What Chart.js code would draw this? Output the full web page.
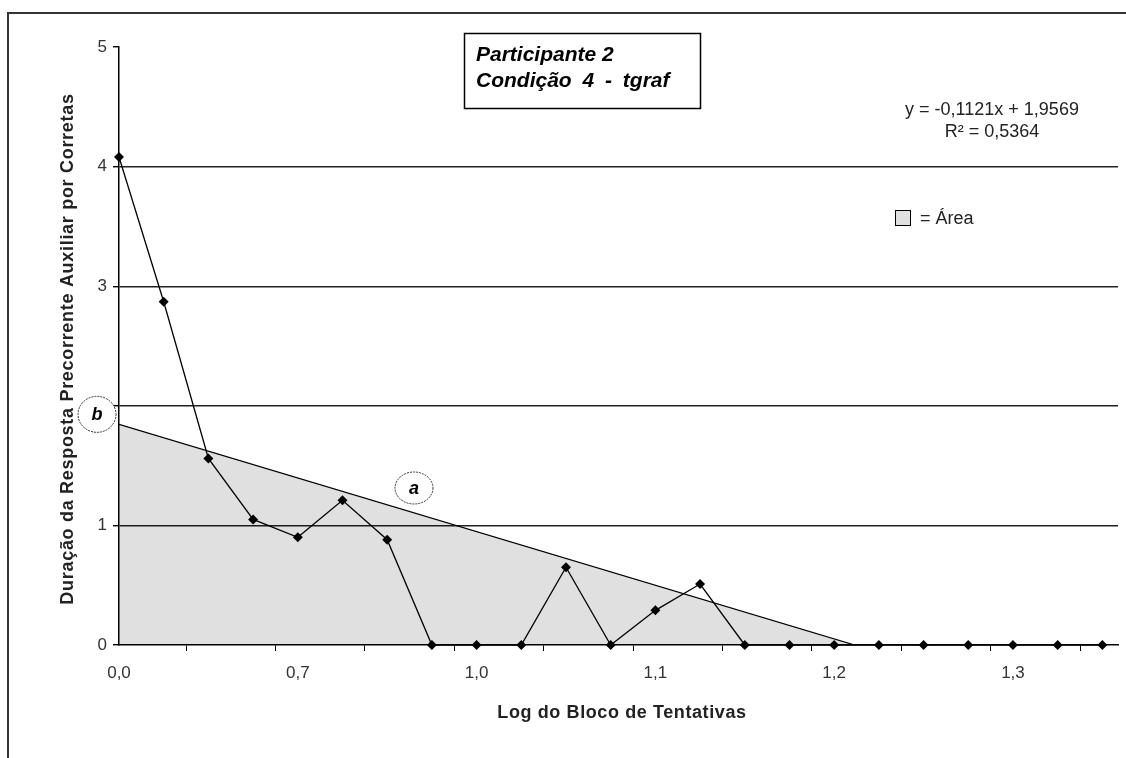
<!DOCTYPE html>
<html lang="pt">
<head>
<meta charset="utf-8">
<title>Participante 2 - Condição 4 - tgraf</title>
<script src="https://cdn.jsdelivr.net/npm/chart.js"></script>
<style>
  html, body { margin: 0; padding: 0; background: #fff; }
  #wrap { width: 1126px; height: 758px; }
</style>
</head>
<body>
<div id="wrap"><canvas id="myChart" width="1126" height="758"></canvas></div>
<script>
// blocks of trials (index 0 = block 1)
const blocos = [0, 1, 2, 3, 4, 5, 6, 7, 8, 9, 10, 11, 12, 13, 14, 15, 16, 17, 18, 19, 20, 21, 22];
const duracao = [4.08, 2.87, 1.56, 1.05, 0.90, 1.21, 0.88, 0, 0, 0, 0.65, 0, 0.29, 0.51, 0, 0, 0, 0, 0, 0, 0, 0, 0];

// x axis: labels every 4 blocks, tick marks between blocks every 2
const labelBlocos = [0, 4, 8, 12, 16, 20];
const labelTextos = ['0,0', '0,7', '1,0', '1,1', '1,2', '1,3'];
const marcasX = [1.5, 3.5, 5.5, 7.5, 9.5, 11.5, 13.5, 15.5, 17.5, 19.5, 21.5];
const yTicks = [0, 1, 2, 3, 4, 5];

// linear trend and the area under it
const trendX = [0, 16.46];
const trendY = [1.845, 0];
const equacao = ['y = -0,1121x + 1,9569', 'R² = 0,5364'];
const titulo = ['Participante 2', 'Condição 4 - tgraf'];
const tituloY = 'Duração da Resposta Precorrente Auxiliar por Corretas';
const tituloX = 'Log do Bloco de Tentativas';

const FONT = '"Liberation Sans", Arial, sans-serif';

const anotacoes = {
  id: 'anotacoes',
  beforeDraw(chart) {
    const ctx = chart.ctx;
    ctx.save();
    ctx.strokeStyle = '#333';
    ctx.lineWidth = 2;
    ctx.beginPath();
    ctx.moveTo(8, 758);
    ctx.lineTo(8, 13);
    ctx.lineTo(1126, 13);
    ctx.stroke();
    ctx.restore();
  },
  afterDraw(chart) {
    const ctx = chart.ctx;
    const x = chart.scales.x, y = chart.scales.y;
    ctx.save();

    // title box
    ctx.strokeStyle = '#000';
    ctx.lineWidth = 1.5;
    ctx.strokeRect(464.5, 33.5, 236, 75);
    ctx.fillStyle = '#000';
    ctx.font = 'italic bold 21px ' + FONT;
    ctx.textAlign = 'left';
    ctx.textBaseline = 'alphabetic';
    ctx.fillText(titulo[0], 476, 61);
    ctx.wordSpacing = '5px';
    ctx.fillText(titulo[1], 476, 87);
    ctx.wordSpacing = '0px';

    // trend equation
    ctx.fillStyle = '#222';
    ctx.font = '18px ' + FONT;
    ctx.textAlign = 'center';
    ctx.fillText(equacao[0], 992, 115);
    ctx.fillText(equacao[1], 992, 137);

    // area legend
    ctx.fillStyle = '#e0e0e0';
    ctx.fillRect(895.5, 210.5, 15, 15);
    ctx.strokeStyle = '#000';
    ctx.lineWidth = 1;
    ctx.strokeRect(895.5, 210.5, 15, 15);
    ctx.fillStyle = '#222';
    ctx.textAlign = 'left';
    ctx.fillText('= Área', 920, 224);

    // axis titles
    ctx.font = 'bold 18px ' + FONT;
    ctx.textAlign = 'center';
    ctx.letterSpacing = '0.6px';
    ctx.fillText(tituloX, 622, 718);
    ctx.save();
    ctx.translate(73, 349);
    ctx.rotate(-Math.PI / 2);
    ctx.letterSpacing = '0.7px';
    ctx.fillText(tituloY, 0, 0);
    ctx.restore();
    ctx.letterSpacing = '0px';

    // "a" (trend line) and "b" (intercept) marks
    const marcas = [
      { t: 'b', cx: 97, cy: y.getPixelForValue(trendY[0]) - 10, rx: 19, ry: 18 },
      { t: 'a', cx: x.getPixelForValue(6.6), cy: 488, rx: 19, ry: 16 }
    ];
    marcas.forEach(m => {
      ctx.fillStyle = '#fff';
      ctx.strokeStyle = '#333';
      ctx.lineWidth = 1;
      ctx.setLineDash([2, 1]);
      ctx.beginPath();
      ctx.ellipse(m.cx, m.cy, m.rx, m.ry, 0, 0, Math.PI * 2);
      ctx.fill();
      ctx.stroke();
      ctx.setLineDash([]);
      ctx.fillStyle = '#000';
      ctx.font = 'italic bold 18px ' + FONT;
      ctx.textAlign = 'center';
      ctx.textBaseline = 'middle';
      ctx.fillText(m.t, m.cx, m.cy + 1);
    });
    ctx.restore();
  }
};

const ctx = document.getElementById('myChart').getContext('2d');
const myChart = new Chart(ctx, {
  type: 'line',
  data: {
    datasets: [
      {
        label: 'Duração',
        data: blocos.map((b, i) => ({ x: b, y: duracao[i] })),
        borderColor: '#000',
        borderWidth: 1.3,
        backgroundColor: '#000',
        pointStyle: 'rectRot',
        pointRadius: 5,
        pointBorderWidth: 0,
        tension: 0,
        fill: false,
        clip: false,
        order: 0
      },
      {
        label: 'Área',
        data: trendX.map((v, i) => ({ x: v, y: trendY[i] })),
        borderColor: '#000',
        borderWidth: 1.3,
        backgroundColor: 'rgba(0, 0, 0, 0.12)',
        pointRadius: 0,
        fill: 'origin',
        tension: 0,
        order: 1
      }
    ]
  },
  options: {
    responsive: false,
    animation: false,
    devicePixelRatio: 1,
    layout: { padding: { top: 47, right: 8, left: 0, bottom: 0 } },
    plugins: {
      legend: { display: false },
      tooltip: { enabled: false }
    },
    scales: {
      x: {
        type: 'linear',
        min: 0,
        max: 22.35,
        afterBuildTicks: s => {
          s.ticks = labelBlocos.concat(marcasX).sort((a, b) => a - b).map(v => ({ value: v }));
        },
        afterFit: s => { s.height = 113; },
        grid: {
          drawOnChartArea: false,
          tickLength: 6,
          tickColor: c => marcasX.includes(c.tick.value) ? '#000' : 'rgba(0,0,0,0)'
        },
        border: { color: '#000', width: 1.5 },
        ticks: {
          autoSkip: false,
          maxRotation: 0,
          padding: 12,
          color: '#333',
          font: { family: FONT, size: 17 },
          callback: v => {
            const i = labelBlocos.indexOf(v);
            return i >= 0 ? labelTextos[i] : '';
          }
        }
      },
      y: {
        min: 0,
        max: 5,
        afterBuildTicks: s => { s.ticks = yTicks.map(v => ({ value: v })); },
        afterFit: s => { s.width = 119; },
        grid: {
          color: c => (c.tick.value === 0 || c.tick.value === 5) ? 'rgba(0,0,0,0)' : '#222',
          tickColor: '#000',
          tickLength: 6,
          lineWidth: 1.4
        },
        border: { color: '#000', width: 1.5 },
        ticks: {
          padding: 6,
          color: '#333',
          font: { family: FONT, size: 17 }
        }
      }
    }
  },
  plugins: [anotacoes]
});
</script>
</body>
</html>
